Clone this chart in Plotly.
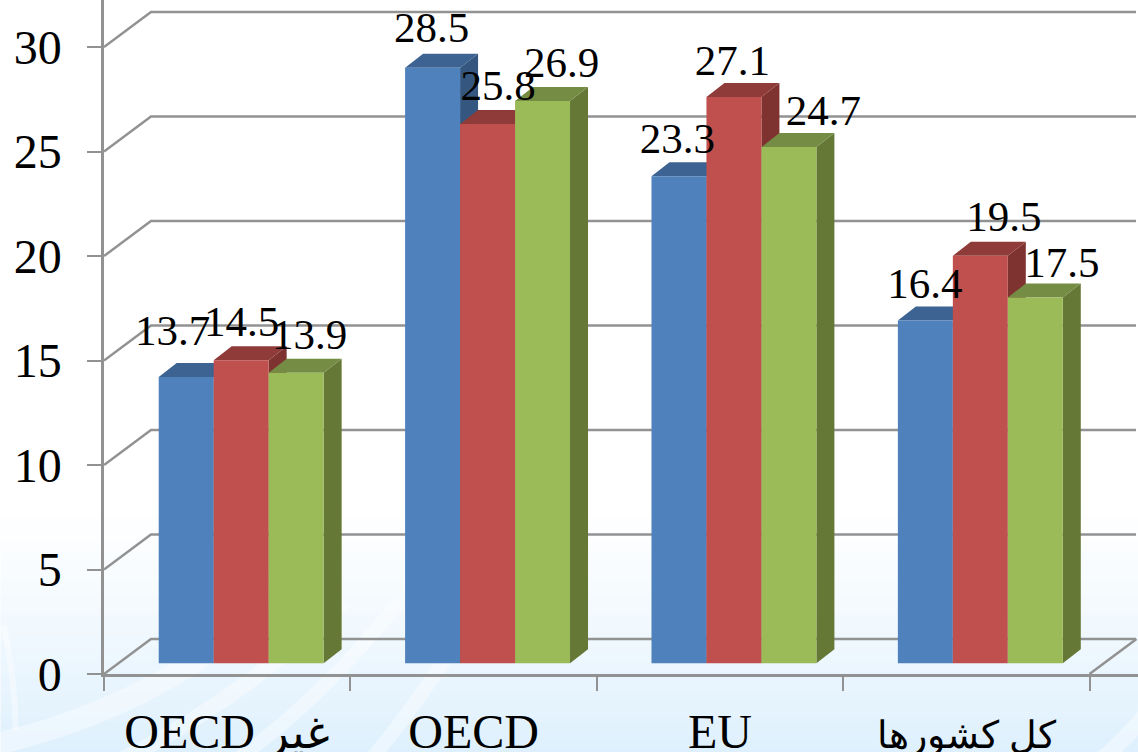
import re
import plotly.graph_objects as go

categories = ["OECD غير", "OECD", "EU", "کل کشورها"]
series_blue = [13.7, 28.5, 23.3, 16.4]
series_red = [14.5, 25.8, 27.1, 19.5]
series_green = [13.9, 26.9, 24.7, 17.5]
y_ticks = [0, 5, 10, 15, 20, 25, 30]

W, H = 1138, 752
L, B0 = 103.5, 673.7
PX_X = 246.5
PX_Y = 20.89
GRID = "#929292"
SERIF = "'Liberation Serif', 'Times New Roman', serif"
ARABIC_SIZES = [45, 38, 38, 38]


def ux(px):
    return px / PX_X


def uy(px):
    return px / PX_Y


wall_dx, wall_dy = ux(47), uy(35)
bar_dx, bar_dy = ux(14.0), uy(10.7)
dep_dx, dep_dy = ux(18.0), uy(14)
bar_w = ux(55)
x_max = ux(W - L)

styles = [
    ("blue", series_blue, "#4F81BD", "#3C6391", "#34567F"),
    ("red", series_red, "#C0504D", "#8F3B39", "#7F3331"),
    ("green", series_green, "#9BBB59", "#748C43", "#657836"),
]

# label nudges in pixels relative to the top-centre of each bar's front face
label_dx = [[-13.5, -1, -1.5, -0.5], [0.5, 10.5, -1.5, 23.5], [13.5, 19, 34.5, 26.5]]
label_dy = [[29, 22, 20, 19], [20.5, 21, 19, 21], [21, 21, 19, 17]]

fig = go.Figure()

# back-wall gridlines with the diagonal run back from the front axis
gx, gy = [], []
for v in y_ticks:
    gx += [0, wall_dx, wall_dx + ux(W - L - 47 - 2), None]
    gy += [v, v + wall_dy, v + wall_dy, None]
gx += [4, 4 + wall_dx, None]
gy += [0, wall_dy, None]
fig.add_trace(go.Scatter(x=gx, y=gy, mode="lines", line=dict(color=GRID, width=2.5),
                         hoverinfo="skip", showlegend=False))

for s, (name, vals, front, top, side) in enumerate(styles):
    fx, fy, tx, ty, sx, sy = [], [], [], [], [], []
    for c, v in enumerate(vals):
        x0 = c + 0.5 + bar_dx + (s - 1.5) * bar_w
        x1 = x0 + bar_w
        y0 = bar_dy
        yt = y0 + v
        fx += [x0, x1, x1, x0, x0, None]
        fy += [y0, y0, yt, yt, y0, None]
        tx += [x0, x1, x1 + dep_dx, x0 + dep_dx, x0, None]
        ty += [yt, yt, yt + dep_dy, yt + dep_dy, yt, None]
        sx += [x1, x1 + dep_dx, x1 + dep_dx, x1, x1, None]
        sy += [y0, y0 + dep_dy, yt + dep_dy, yt, y0, None]
    for xs, ys, col, nm in [(sx, sy, side, "side"), (tx, ty, top, "top"), (fx, fy, front, "front")]:
        fig.add_trace(go.Scatter(x=xs, y=ys, mode="none", fill="toself", fillcolor=col,
                                 name=f"{name} {nm}", hoverinfo="skip", showlegend=False))

# data labels
lx, ly, lt = [], [], []
for s, (name, vals, *_rest) in enumerate(styles):
    for c, v in enumerate(vals):
        lx.append(c + 0.5 + bar_dx + (s - 1) * bar_w + ux(label_dx[s][c]))
        ly.append(bar_dy + v + uy(label_dy[s][c] + 14))
        lt.append(f"{v:.1f}")
fig.add_trace(go.Scatter(x=lx, y=ly, text=lt, mode="text", textposition="middle center",
                         textfont=dict(family=SERIF, size=43, color="black"),
                         hoverinfo="skip", showlegend=False, cliponaxis=False))


def py(p):
    return (B0 - p) / B0


def px(p):
    return (p - L) / (W - L)


shapes = []
# soft vertical wash behind the lower part of the chart
top_y, n = 500, 50
for i in range(n):
    t = ((i + 0.5) / n) ** 1.25
    r = int(round(255 + (222 - 255) * t))
    g = int(round(255 + (240 - 255) * t))
    b = int(round(255 + (253 - 255) * t))
    shapes.append(dict(type="rect", layer="below", xref="paper", yref="paper",
                       x0=px(0), x1=1, y0=py(top_y + i * (H - top_y) / n),
                       y1=py(top_y + (i + 1) * (H - top_y) / n + 1),
                       line=dict(width=0), fillcolor=f"rgb({r},{g},{b})"))
fig.update_layout(shapes=shapes)

# pale swooshes of the slide artwork
arcs = [
    ((-10, 745), (190, 700), (310, 560), 22),
    ((120, 760), (240, 700), (345, 600), 16),
    ((235, 760), (320, 700), (400, 600), 14),
    ((370, 760), (420, 700), (470, 620), 14),
    ((3, 625), (15, 680), (15, 730), 6),
    ((1100, 760), (1125, 740), (1145, 715), 16),
]
for a, b, c, w in arcs:
    path = f"M {px(a[0])},{py(a[1])} Q {px(b[0])},{py(b[1])} {px(c[0])},{py(c[1])}"
    fig.add_shape(type="path", path=path, layer="below", xref="paper", yref="paper",
                  line=dict(color="rgba(255,255,255,0.4)", width=w))

tick_text = [re.sub(r"([\u0600-\u06FF]+(?: [\u0600-\u06FF]+)*)",
                    rf"<span style='font-size:{size}px'>\1</span>", c)
             for c, size in zip(categories, ARABIC_SIZES)]

fig.update_layout(
    width=W, height=H,
    margin=dict(l=L, r=0, t=0, b=H - B0, pad=0, autoexpand=False),
    paper_bgcolor="white", plot_bgcolor="rgba(0,0,0,0)",
    showlegend=False,
    xaxis=dict(range=[0, x_max], showgrid=False, zeroline=False, showline=True,
               linecolor=GRID, linewidth=2.5,
               tickmode="array", tickvals=[i + 0.5 for i in range(4)], ticktext=tick_text,
               ticks="", ticklabelstandoff=14,
               tickfont=dict(family=SERIF, size=48, color="black"),
               minor=dict(ticks="outside", tick0=0, dtick=1, ticklen=14, tickwidth=2,
                          tickcolor=GRID, showgrid=False)),
    yaxis=dict(range=[0, B0 / PX_Y], showgrid=False, zeroline=False, showline=True,
               linecolor=GRID, linewidth=2.5,
               tickmode="array", tickvals=y_ticks, ticks="outside", ticklen=14, tickwidth=2,
               tickcolor=GRID, ticklabelstandoff=16,
               tickfont=dict(family=SERIF, size=48, color="black")),
)

fig.write_html("out.html", config=dict(displayModeBar=False),
               post_script="document.body.style.margin='0';document.body.style.overflow='hidden';")
